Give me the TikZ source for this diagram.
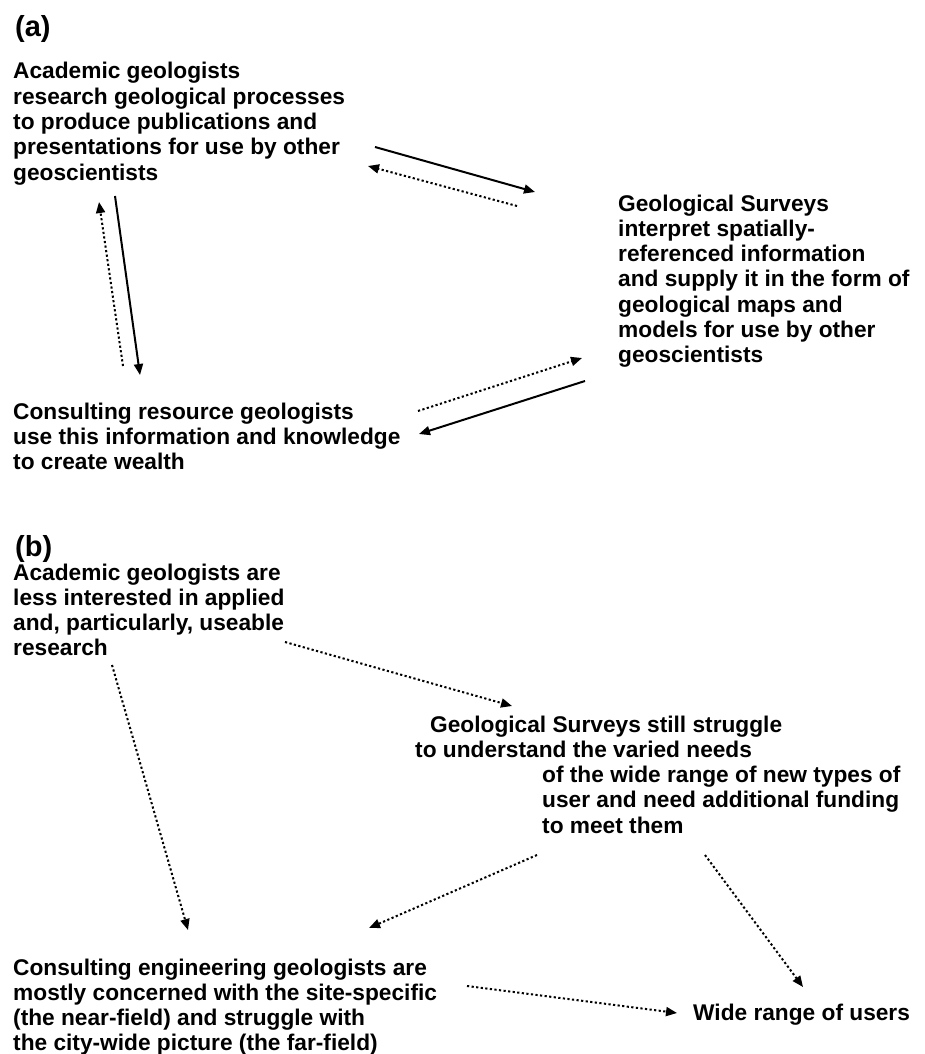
\documentclass[tikz,border=0pt]{standalone}
\usepackage{fontspec}
\setmainfont{Liberation Sans}
\usetikzlibrary{arrows.meta}
\newcommand\blk[1]{\begin{tabular}[t]{@{}l@{}}#1\end{tabular}}
\begin{document}
\begin{tikzpicture}[x=1pt,y=-1pt,
  txt/.style={anchor=base west, inner sep=0pt, font=\fontsize{22.7}{25.3}\selectfont\bfseries},
  lbl/.style={anchor=base west, inner sep=0pt, font=\fontsize{29}{32}\selectfont\bfseries},
  solidarr/.style={line width=2pt, -{Triangle[length=11pt,width=9pt]}},
  dotarr/.style={line width=2pt, dash pattern=on 2.2pt off 2.4pt, -{Triangle[length=11pt,width=9pt]}},
]
\useasboundingbox[fill=white] (0,0) rectangle (925,1054);

% ---------- (a) ----------
\node[lbl] (la) at (15,37) {(a)};
\node[txt] (A1) at (13,79) {\blk{Academic geologists\\research geological processes\\to produce publications and\\presentations for use by other\\geoscientists}};
\node[txt] (GS) at (618,211) {\blk{Geological Surveys\\interpret spatially-\\referenced information\\and supply it in the form of\\geological maps and\\models for use by other\\geoscientists}};
\node[txt] (CR) at (13,419) {\blk{Consulting resource geologists\\use this information and knowledge\\to create wealth}};

\coordinate (a1s) at (375,147); \coordinate (a1e) at (535,192);
\coordinate (a2s) at (517,206); \coordinate (a2e) at (368,166);
\coordinate (a3s) at (418,411); \coordinate (a3e) at (582,358);
\coordinate (a4s) at (585,381); \coordinate (a4e) at (419,434);
\coordinate (a5s) at (115,196); \coordinate (a5e) at (140,375);
\coordinate (a6s) at (123,366); \coordinate (a6e) at (99,202);
\draw[solidarr] (a1s) -- (a1e);
\draw[dotarr] (a2s) -- (a2e);
\draw[dotarr] (a3s) -- (a3e);
\draw[solidarr] (a4s) -- (a4e);
\draw[solidarr] (a5s) -- (a5e);
\draw[dotarr] (a6s) -- (a6e);

% ---------- (b) ----------
\node[lbl] (lb) at (15,556) {(b)};
\node[txt] (B1) at (13,580) {\blk{Academic geologists are\\less interested in applied\\and, particularly, useable\\research}};
\node[txt] (GS2) at (415,732) {\blk{\hspace*{15pt}Geological Surveys still struggle\\to understand the varied needs\\\hspace*{127pt}of the wide range of new types of\\\hspace*{127pt}user and need additional funding\\\hspace*{127pt}to meet them}};
\node[txt] (CE) at (13,975) {\blk{Consulting engineering geologists are\\mostly concerned with the site-specific\\(the near-field) and struggle with\\the city-wide picture (the far-field)}};
\node[txt] (WR) at (693,1020) {Wide range of users};

\coordinate (b1s) at (285,642); \coordinate (b1e) at (512,706);
\coordinate (b2s) at (112,665); \coordinate (b2e) at (188,930);
\coordinate (b3s) at (537,855); \coordinate (b3e) at (369,928);
\coordinate (b4s) at (705,855); \coordinate (b4e) at (803,987);
\coordinate (b5s) at (467,986); \coordinate (b5e) at (677,1013);
\draw[dotarr] (b1s) -- (b1e);
\draw[dotarr] (b2s) -- (b2e);
\draw[dotarr] (b3s) -- (b3e);
\draw[dotarr] (b4s) -- (b4e);
\draw[dotarr] (b5s) -- (b5e);
\end{tikzpicture}
\end{document}
